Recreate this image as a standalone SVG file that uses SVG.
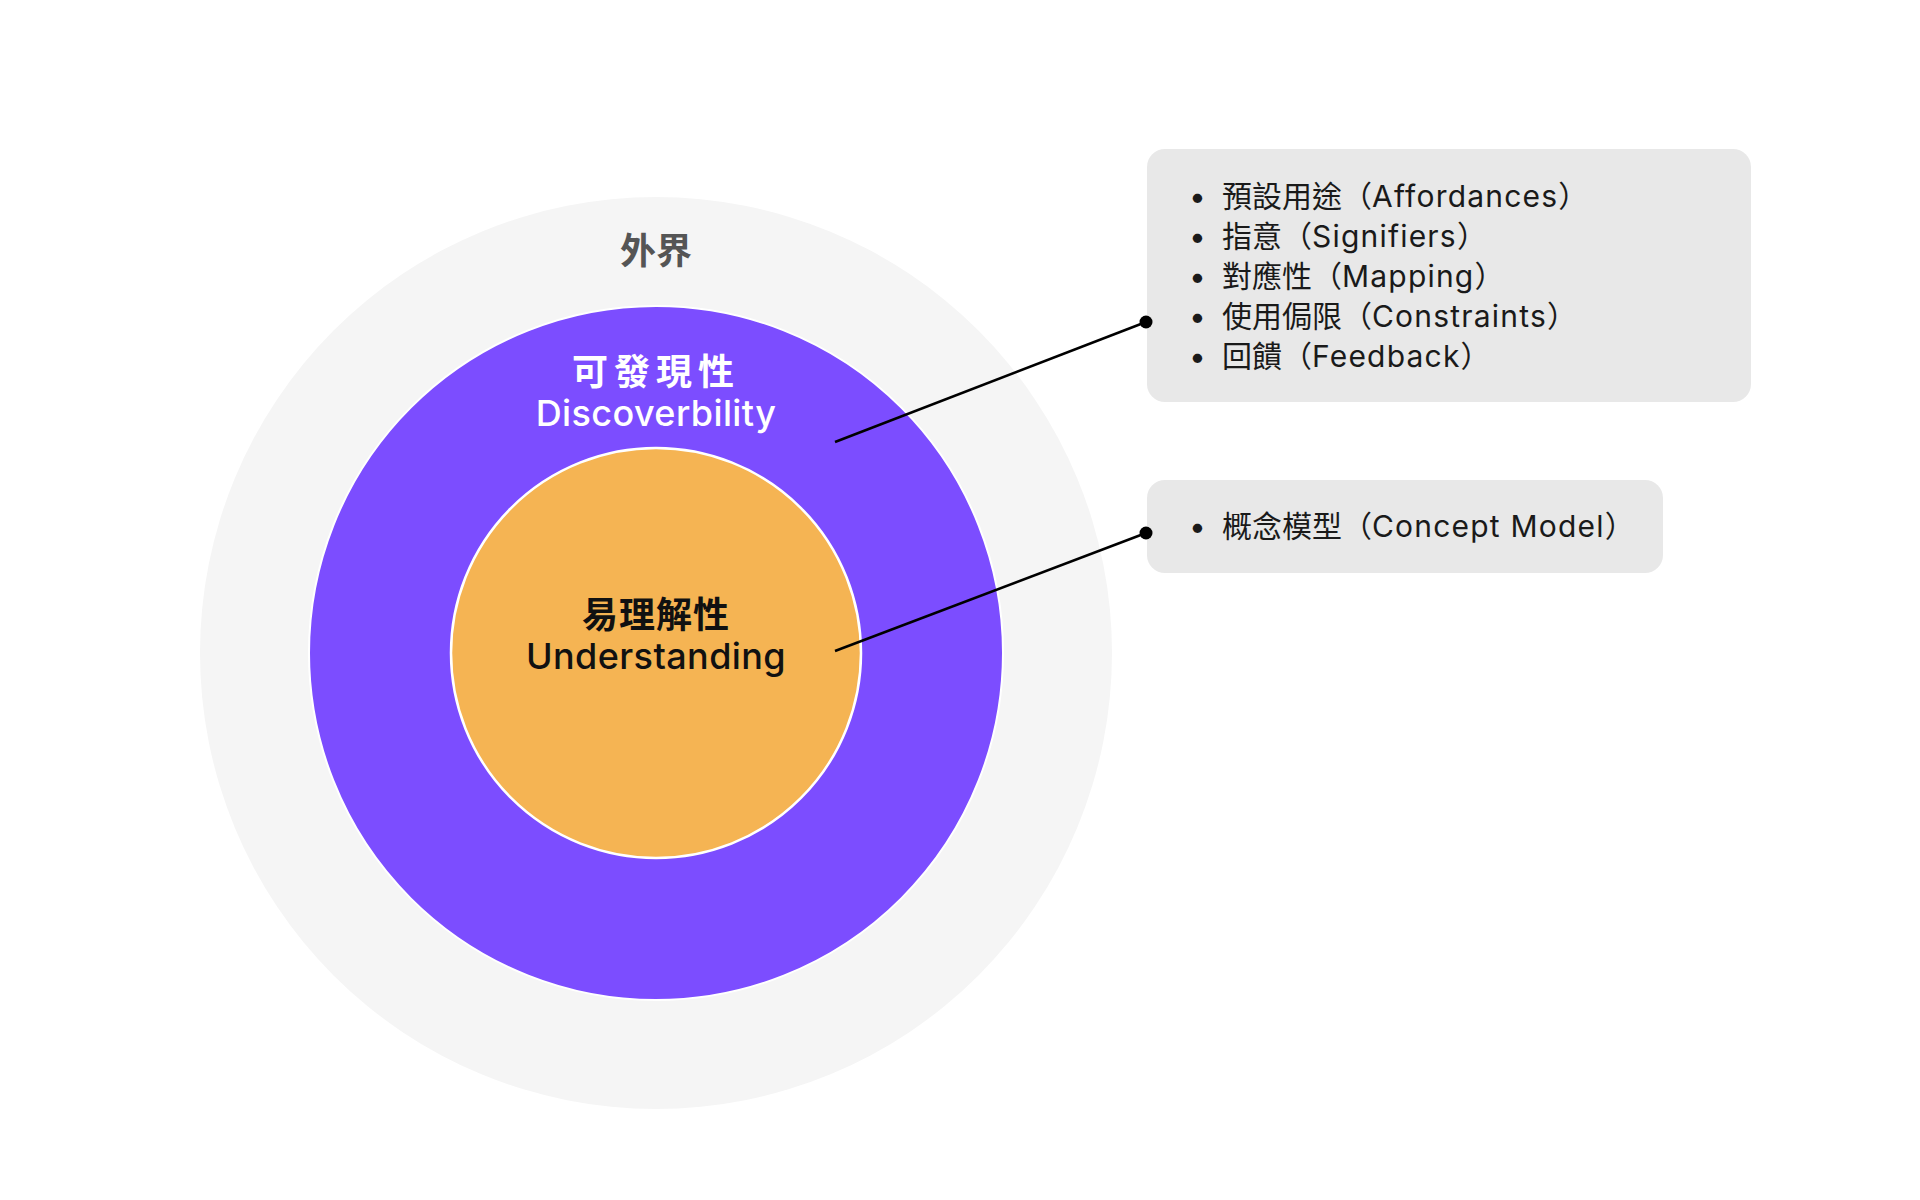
<svg xmlns="http://www.w3.org/2000/svg" width="1920" height="1200" viewBox="0 0 1920 1200">
<style>
.t{font-family:Inter,"Noto Sans CJK TC",sans-serif;}
.title{font-size:36px;font-weight:700;text-anchor:middle;}
.sub{font-size:36px;font-weight:500;text-anchor:middle;letter-spacing:0.4px;}
.item{font-size:30px;font-weight:400;fill:#1a1a1a;}
.lat{letter-spacing:1.2px;}
.box{fill:#E8E8E8;}
.conn{stroke:#000;stroke-width:2.5;fill:none;}
</style>
<rect width="1920" height="1200" fill="#fff"/>
<g id="outer">
<circle cx="656" cy="653" r="456" fill="#F5F5F5"/>
<text class="t title" x="656" y="264" fill="#555">外界</text>
</g>
<g id="discoverability">
<circle cx="656" cy="653" r="347" fill="#7C4DFF" stroke="#fff" stroke-width="2"/>
<text class="t title" x="656" y="385" fill="#fff" letter-spacing="6">可發現性</text>
<text class="t sub" x="656" y="426" fill="#fff">Discoverbility</text>
</g>
<g id="understanding">
<circle cx="656" cy="653" r="205" fill="#F5B453" stroke="#fff" stroke-width="2.5"/>
<text class="t title" x="656" y="628" fill="#111" letter-spacing="1">易理解性</text>
<text class="t sub" x="656" y="669" fill="#111">Understanding</text>
</g>
<g id="box-discoverability">
<rect class="box" x="1147" y="149" width="604" height="253" rx="18"/>
<g class="t item">
<text x="1189" y="207">•</text><text x="1222" y="207">預設用途（<tspan class="lat">Affordances</tspan>）</text>
<text x="1189" y="247">•</text><text x="1222" y="247">指意（<tspan class="lat">Signifiers</tspan>）</text>
<text x="1189" y="287">•</text><text x="1222" y="287">對應性（<tspan class="lat">Mapping</tspan>）</text>
<text x="1189" y="327">•</text><text x="1222" y="327">使用侷限（<tspan class="lat">Constraints</tspan>）</text>
<text x="1189" y="367">•</text><text x="1222" y="367">回饋（<tspan class="lat">Feedback</tspan>）</text>
</g>
</g>
<g id="box-understanding">
<rect class="box" x="1147" y="480" width="516" height="93" rx="18"/>
<g class="t item">
<text x="1189" y="537">•</text><text x="1222" y="537">概念模型（<tspan class="lat">Concept Model</tspan>）</text>
</g>
</g>
<g id="connectors">
<line class="conn" x1="835" y1="442" x2="1146" y2="322"/>
<circle cx="1146" cy="322" r="6.5" fill="#000"/>
<line class="conn" x1="835" y1="651" x2="1146" y2="533"/>
<circle cx="1146" cy="533" r="6.5" fill="#000"/>
</g>
</svg>
